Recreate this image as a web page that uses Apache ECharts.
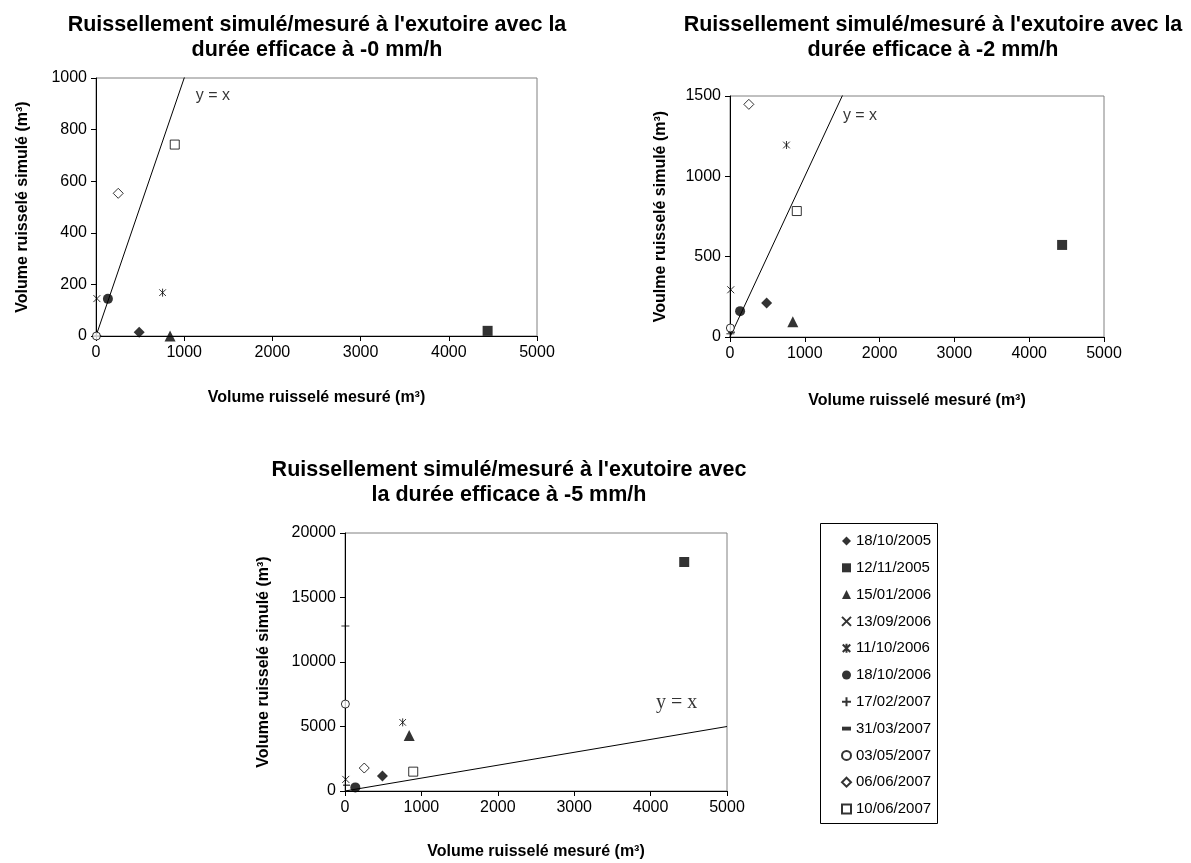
<!DOCTYPE html>
<html><head><meta charset="utf-8">
<script src="https://cdn.jsdelivr.net/npm/echarts@6/dist/echarts.min.js"></script>
<style>html,body{margin:0;padding:0;background:#fff}#c{width:1191px;height:863px}</style>
</head><body><div id="c"></div>
<script>
// ---- data ----
const dates = ['18/10/2005','12/11/2005','15/01/2006','13/09/2006','11/10/2006','18/10/2006','17/02/2007','31/03/2007','03/05/2007','06/06/2007','10/06/2007'];
const measured   = [490, 4440, 840, 10, 755, 135, 5, 20, 5, 252, 893];
const simulated0 = [15, 20, 0, 145, 168, 144, 0, 0, 0, 553, 742];
const simulated2 = [211, 573, 95, 294, 1195, 161, 20, 30, 56, 1448, 784];
const simulated5 = [1160, 17750, 4300, 900, 5320, 280, 12790, 450, 6740, 1780, 1500];
const identityEnds = [0, 5000];
const xTickValues = [0, 1000, 2000, 3000, 4000, 5000];
const yMax = [1000, 1500, 20000];
const yStep = [200, 500, 5000];
const titles = [
  "Ruissellement simulé/mesuré à l'exutoire avec la\ndurée efficace à -0 mm/h",
  "Ruissellement simulé/mesuré à l'exutoire avec la\ndurée efficace à -2 mm/h",
  "Ruissellement simulé/mesuré à l'exutoire avec\nla durée efficace à -5 mm/h"
];
const xNames = ['Volume ruisselé mesuré (m³)','Volume ruisselé mesuré (m³)','Volume ruisselé mesuré (m³)'];
const yNames = ['Volume ruisselé simulé (m³)','Voulme ruisselé simulé (m³)','Volume ruisselé simulé (m³)'];
const lineLabelAnchor = [[1325, 930], [1738, 1375], [4342, 6820]];

// ---- styles ----
const F = 'Arial, "Liberation Sans", sans-serif';
const B = '#000';
const open = {color:'#fff', borderColor:B, borderWidth:1};
const stroke = {color:'rgba(0,0,0,0)', borderColor:B, borderWidth:1};
const solid = {color:B, borderColor:B, borderWidth:0};
const markers = [
  {symbol:'diamond', size:11, style:solid},
  {symbol:'rect', size:10, style:solid},
  {symbol:'triangle', size:11, style:solid},
  {symbol:'path://M0,0L10,10M10,0L0,10', size:7, style:stroke},
  {symbol:'path://M0,0L10,10M10,0L0,10M5,-1L5,11', size:8, style:stroke},
  {symbol:'circle', size:10, style:solid},
  {symbol:'path://M5,0L5,10M0,5L10,5', size:8, style:stroke},
  {symbol:'path://M0,0L7,0L7,3L0,3Z', size:[7,3], style:solid},
  {symbol:'circle', size:8, style:open},
  {symbol:'diamond', size:10, style:open},
  {symbol:'rect', size:9, style:open}
];
const grids = [
  {left:96, top:78, width:441, height:258},
  {left:730, top:96, width:374, height:241},
  {left:345, top:533, width:382, height:258}
];
const yNameGap = [65, 61, 73];
const xNameGap = [54, 56, 53];
const sims = [simulated0, simulated2, simulated5];

const option = {
  animation:false,
  backgroundColor:'#fff',
  title: titles.map((t,i)=>({
    text:t, left:[312, 928, 504][i], top:[8, 8, 453][i], textAlign:'center',
    textStyle:{fontFamily:F, fontSize:21.5, fontWeight:'bold', color:B, lineHeight:25}
  })),
  grid: grids.map(g=>Object.assign({show:true, borderColor:'#808080', borderWidth:1, backgroundColor:'rgba(0,0,0,0)'}, g)),
  xAxis: grids.map((g,i)=>({
    type:'value', gridIndex:i, min:xTickValues[0], max:xTickValues[xTickValues.length-1], interval:xTickValues[1]-xTickValues[0],
    axisLine:{show:true, onZero:false, lineStyle:{color:B, width:1}},
    axisTick:{show:true, inside:false, length:5, lineStyle:{color:B}},
    axisLabel:{fontFamily:F, fontSize:16, color:B, margin:9, formatter:v=>String(v)},
    splitLine:{show:false},
    name:xNames[i], nameLocation:'middle', nameGap:xNameGap[i],
    nameTextStyle:{fontFamily:F, fontSize:16, fontWeight:'bold', color:B}
  })),
  yAxis: grids.map((g,i)=>({
    type:'value', gridIndex:i, min:0, max:yMax[i], interval:yStep[i],
    axisLine:{show:true, onZero:false, lineStyle:{color:B, width:1}},
    axisTick:{show:true, inside:false, length:5, lineStyle:{color:B}},
    axisLabel:{fontFamily:F, fontSize:16, color:B, margin:9, formatter:v=>String(v)},
    splitLine:{show:false},
    name:yNames[i], nameLocation:'middle', nameGap:yNameGap[i],
    nameTextStyle:{fontFamily:F, fontSize:16, fontWeight:'bold', color:B}
  })),
  legend:{
    orient:'vertical', left:836, top:528, data:dates, selectedMode:false,
    itemWidth:9, itemHeight:9, itemGap:10.8,
    textStyle:{fontFamily:F, fontSize:15, lineHeight:16, color:B}
  },
  graphic:[{type:'rect', shape:{x:820.5, y:523.5, width:117, height:300}, style:{fill:'none', stroke:B, lineWidth:1}, z:-1}],
  series:[]
};

for (let c=0;c<3;c++){
  option.series.push({
    type:'line', xAxisIndex:c, yAxisIndex:c, name:'y = x', clip:true,
    data:identityEnds.map(v=>[v,v]), symbol:'none', silent:true,
    lineStyle:{color:B, width:1}, z:1
  });
  option.series.push({
    type:'scatter', xAxisIndex:c, yAxisIndex:c, name:'lbl'+c, silent:true,
    data:[lineLabelAnchor[c]], symbolSize:1, itemStyle:{color:'rgba(0,0,0,0)'},
    label:{show:true, position:'inside', formatter:'y = x',
      fontFamily: c===2 ? '"Times New Roman", "Liberation Serif", serif' : F,
      fontSize: c===2 ? 20 : 16, color:B}
  });
  dates.forEach((d,k)=>{
    const m = markers[k];
    option.series.push({
      type:'scatter', name:d, xAxisIndex:c, yAxisIndex:c, clip:false,
      data:[[measured[k], sims[c][k]]], symbolKeepAspect:true,
      symbol:m.symbol, symbolSize:m.size, itemStyle:Object.assign({}, m.style), z:3
    });
  });
}

const chart = echarts.init(document.getElementById('c'), null, {renderer:'canvas'});
chart.setOption(option);
</script>
</body></html>
